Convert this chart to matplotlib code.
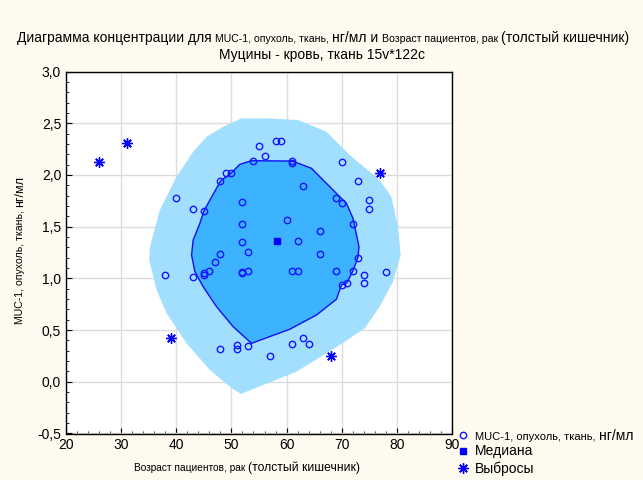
import matplotlib
matplotlib.use("Agg")
import matplotlib.pyplot as plt
from matplotlib.lines import Line2D
from matplotlib.patches import Polygon
from matplotlib.ticker import MultipleLocator, AutoMinorLocator, FuncFormatter

plt.rcParams['font.family'] = ['Liberation Sans', 'DejaVu Sans']

# patient age vs MUC-1 concentration (ng/ml)
age = [40, 43, 45, 48, 49, 50, 52, 52, 52, 53, 48, 54, 55, 58, 59, 56, 61, 61,
       63, 70, 73, 69, 70, 75, 75, 72, 60, 62, 66, 66, 73, 38, 43, 45, 45, 46,
       47, 52, 52, 53, 48, 51, 51, 53, 61, 62, 69, 72, 74, 74, 78, 70, 71, 61,
       63, 64, 57]
muc = [1.78, 1.67, 1.655, 1.94, 2.02, 2.02, 1.735, 1.53, 1.355, 1.255, 1.24,
       2.14, 2.28, 2.33, 2.33, 2.18, 2.14, 2.12, 1.89, 2.13, 1.945, 1.775, 1.73,
       1.755, 1.67, 1.53, 1.565, 1.36, 1.46, 1.235, 1.2, 1.035, 1.015, 1.05,
       1.035, 1.075, 1.16, 1.065, 1.05, 1.075, 0.315, 0.36, 0.315, 0.35, 1.075,
       1.075, 1.075, 1.075, 1.035, 0.955, 1.065, 0.935, 0.96, 0.37, 0.42, 0.37,
       0.25]

outlier_age = [26, 31, 39, 77, 68]
outlier_muc = [2.13, 2.31, 0.42, 2.02, 0.25]

median_age = 58.2
median_muc = 1.36

# inner region (bag)
bag_age = [53.64, 61.03, 64.51, 69.64, 70.85, 72.05, 73.13, 72.95, 72.05, 70.96,
           69.95, 69.04, 65.42, 60.58, 53.64, 50.31, 47.30, 44.87, 43.37, 42.77,
           43.06, 44.28, 45.0, 48.03, 50.02, 51.52]
bag_muc = [2.138, 2.135, 2.065, 1.79, 1.726, 1.581, 1.307, 1.204, 1.074, 0.958,
           0.936, 0.798, 0.646, 0.508, 0.372, 0.533, 0.726, 0.92, 1.065, 1.226,
           1.371, 1.533, 1.652, 1.942, 2.022, 2.103]

# outer region (fence)
fence_age = [51.83, 56.96, 62.08, 67.23, 71.45, 76.88, 79.0, 80.20, 80.69, 79.29,
             76.88, 74.17, 69.64, 61.79, 51.70, 49.71, 46.09, 41.87, 38.24, 36.43,
             35.09, 35.22, 37.03, 40.05, 43.06, 45.49, 48.50]
fence_muc = [2.548, 2.546, 2.532, 2.419, 2.193, 1.951, 1.79, 1.50, 1.226, 0.968,
             0.726, 0.517, 0.356, 0.098, -0.118, -0.047, 0.114, 0.372, 0.662, 0.888,
             1.178, 1.307, 1.662, 1.984, 2.225, 2.37, 2.467]

W, H = 643, 480
fig = plt.figure(figsize=(W / 100, H / 100), dpi=100, facecolor='#fffaf0')
ax = fig.add_axes([66 / W, 1 - 433.5 / H, 386 / W, 361.9 / H])
ax.set_facecolor('white')

ax.add_patch(Polygon(list(zip(fence_age, fence_muc)), closed=True,
                     facecolor='#a2dffe', edgecolor='none', zorder=1))
ax.add_patch(Polygon(list(zip(bag_age, bag_muc)), closed=True,
                     facecolor='#3db2fe', edgecolor='#1010ee', lw=1, zorder=2))

star = dict(ls='none', marker=(8, 2, 0), ms=7.5, mec='#0000ff', mew=1.0)
ax.plot(age, muc, 'o', ms=4.6, mfc='none', mec='#1515ff', mew=1, zorder=4)
ax.plot(median_age, median_muc, 's', ms=5, color='#0000ff', zorder=5)
ax.plot(outlier_age, outlier_muc, zorder=5, **star)

ax.set_xlim(20, 90)
ax.set_ylim(-0.5, 3.0)
ax.xaxis.set_major_locator(MultipleLocator(10))
ax.yaxis.set_major_locator(MultipleLocator(0.5))
ax.xaxis.set_minor_locator(AutoMinorLocator(5))
ax.yaxis.set_minor_locator(AutoMinorLocator(5))
ax.yaxis.set_major_formatter(FuncFormatter(lambda v, p: f"{v:.1f}".replace('.', ',')))
ax.tick_params(which='both', direction='in', top=False, right=False, labelsize=10)
ax.tick_params(which='major', length=4)
ax.tick_params(which='minor', length=2)
ax.grid(True, color='#dcdcdc', lw=1)
ax.set_axisbelow(True)
for s in ax.spines.values():
    s.set_color('black')
    s.set_linewidth(1)

renderer = fig.canvas.get_renderer()


def pieces_text(pieces, cx, cy, vertical=False):
    """Write pieces of text with different sizes as one line centred at (cx, cy) px."""
    objs = []
    for s, fs in pieces:
        t = fig.text(0, 0, s, fontsize=fs, ha='left', va='baseline',
                     rotation=90 if vertical else 0, rotation_mode='anchor')
        objs.append(t)
    sizes = []
    for t in objs:
        bb = t.get_window_extent(renderer)
        sizes.append(bb.height if vertical else bb.width)
    pos = (cy if vertical else cx) - sum(sizes) / 2
    for t, sz in zip(objs, sizes):
        if vertical:
            t.set_position((cx / W, pos / H))
        else:
            t.set_position((pos / W, 1 - cy / H))
        pos += sz
    return objs


pieces_text([("Диаграмма концентрации для ", 10), ("MUC-1, опухоль, ткань, ", 7.6),
             ("нг/мл и ", 10), ("Возраст пациентов, рак ", 7.6),
             ("(толстый кишечник)", 10)], 323, 42)
pieces_text([("Муцины - кровь, ткань 15v*122c", 10)], 322, 59)
pieces_text([("Возраст пациентов, рак ", 7.3), ("(толстый кишечник)", 8.7)], 247, 471)
pieces_text([("MUC-1, опухоль, ткань, ", 7.6), ("нг/мл", 9)], 23, H - 250, vertical=True)

handles = [Line2D([], [], ls='none', marker='o', ms=4.6, mfc='none', mec='#1515ff', mew=1),
           Line2D([], [], ls='none', marker='s', ms=5, color='#0000ff'),
           Line2D([], [], **star)]
leg = fig.legend(handles, ["MUC-1, опухоль, ткань, ", "Медиана", "Выбросы"],
                 loc='upper left', bbox_to_anchor=(457 / W, 1 - 430 / H),
                 frameon=False, handlelength=0.8, handletextpad=0.5,
                 labelspacing=0.2, borderpad=0, borderaxespad=0, fontsize=10)
leg.get_texts()[0].set_fontsize(8)
fig.canvas.draw()
lt = leg.get_texts()[0]
bb = lt.get_window_extent(renderer)
bx, by = lt.get_transform().transform(lt.get_position())
fig.text(bb.x1 / W, by / H, "нг/мл", fontsize=10, ha='left', va='baseline')

fig.savefig("out.png", dpi=100, facecolor=fig.get_facecolor())
